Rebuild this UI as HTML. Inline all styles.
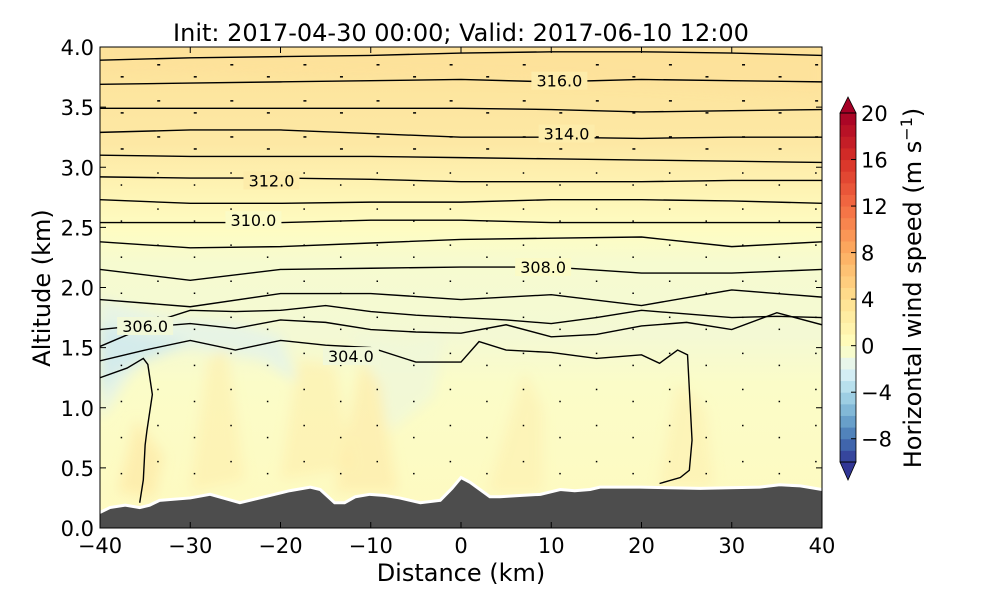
<!DOCTYPE html>
<html><head><meta charset="utf-8"><style>
body{margin:0;background:#fff}
svg{display:block;font-family:"DejaVu Sans","Liberation Sans",sans-serif}
</style></head><body>
<svg id="chart" width="1000" height="600" viewBox="0 0 1000 600">
<defs>
<clipPath id="plotclip"><rect x="100" y="47" width="722" height="481"/></clipPath>
<linearGradient id="bgGrad" x1="0" y1="0" x2="0" y2="1">
<stop offset="0" stop-color="#fde39a"/>
<stop offset="0.2" stop-color="#fde8a4"/>
<stop offset="0.3" stop-color="#fef4b4"/>
<stop offset="0.38" stop-color="#fefcc2"/>
<stop offset="0.45" stop-color="#f6fbd0"/>
<stop offset="0.6" stop-color="#f4f9d4"/>
<stop offset="0.7" stop-color="#fbfcc8"/>
<stop offset="1" stop-color="#fefac0"/>
</linearGradient>
<filter id="blur"><feGaussianBlur stdDeviation="6"/></filter>
</defs>
<text x="461" y="41" font-size="24" text-anchor="middle">Init: 2017-04-30 00:00; Valid: 2017-06-10 12:00</text>
<g id="plot" clip-path="url(#plotclip)">
<rect x="100" y="47" width="722" height="481" fill="url(#bgGrad)"/>
<g id="patches" filter="url(#blur)"></g>
<g id="vectors"></g>
<g id="contours"></g>
<g id="terrain"></g>
<g id="clabels"></g>
</g>
<rect x="100" y="47" width="722" height="481" fill="none" stroke="#000" stroke-width="1"/>
<g id="axes"></g>
<text x="461" y="581" font-size="24" text-anchor="middle">Distance (km)</text>
<text transform="translate(50,288) rotate(-90)" font-size="24" text-anchor="middle">Altitude (km)</text>
<g id="colorbar"></g>
<text transform="translate(921,288) rotate(-90)" font-size="24" text-anchor="middle">Horizontal wind speed (m s<tspan baseline-shift="super" font-size="16">−1</tspan>)</text>
</svg>
<script>
const NS="http://www.w3.org/2000/svg";
// ---- data ----
const xTicks=[-40,-30,-20,-10,0,10,20,30,40];
const yTicks=[0.0,0.5,1.0,1.5,2.0,2.5,3.0,3.5,4.0];
const cbTicks=[-8,-4,0,4,8,12,16,20];
const cbLevels=[-10,-9,-8,-7,-6,-5,-4,-3,-2,-1,0,1,2,3,4,5,6,7,8,9,10,11,12,13,14,15,16,17,18,19,20];
const gridX=[-40,-30,-20,-10,0,10,20,30,40];
const gridX5=[-40,-35,-30,-25,-20,-15,-10,-5,0,5,10,15,20,25,30,35,40];
const th1=[3.89,3.91,3.92,3.93,3.95,3.96,3.96,3.95,3.93];
const th2=[3.69,3.70,3.71,3.72,3.73,3.71,3.73,3.72,3.71];
const th3=[3.49,3.49,3.49,3.49,3.49,3.48,3.46,3.47,3.48];
const th4=[3.29,3.31,3.31,3.28,3.25,3.25,3.24,3.25,3.25];
const th5=[3.10,3.09,3.09,3.09,3.08,3.07,3.06,3.05,3.04];
const th6=[2.92,2.91,2.91,2.90,2.88,2.88,2.88,2.89,2.89];
const th7=[2.73,2.70,2.70,2.71,2.71,2.73,2.73,2.72,2.70];
const th8=[2.54,2.54,2.54,2.56,2.56,2.54,2.54,2.54,2.54];
const th9=[2.38,2.33,2.34,2.37,2.40,2.41,2.42,2.34,2.38];
const th10=[2.15,2.06,2.15,2.16,2.17,2.17,2.12,2.12,2.15];
const th11=[1.90,1.84,1.95,1.95,1.90,1.94,1.85,1.98,1.92];
const th12=[1.65,1.69,1.81,1.80,1.81,1.85,1.80,1.77,1.75,1.73,1.70,1.75,1.81,1.78,1.75,1.76,1.75];
const th13=[1.51,1.67,1.70,1.66,1.73,1.71,1.65,1.63,1.62,1.69,1.59,1.61,1.68,1.71,1.65,1.79,1.69];
const th14x=[-40,-35,-30,-25,-20,-15,-10,-5,0,2,5,10,15,20,22,24,25.1,25.6,25.3,24.3,22.0];
const th14z=[1.39,1.48,1.56,1.48,1.56,1.52,1.50,1.38,1.38,1.55,1.48,1.46,1.41,1.44,1.37,1.48,1.44,0.73,0.48,0.42,0.37];
const th15x=[-40,-37,-35.2,-34.7,-34.2,-34.8,-35.0,-35.2,-35.6];
const th15z=[1.25,1.33,1.41,1.36,1.11,0.81,0.69,0.40,0.21];
const terrX=[-40,-38.9,-37.2,-35.6,-34.5,-33.4,-30.0,-27.8,-24.5,-21.2,-19.0,-16.7,-15.6,-14.0,-12.9,-11.7,-10.1,-8.4,-6.8,-4.5,-2.3,-1.0,0,1.0,3.2,4.3,6.5,8.8,11.0,12.6,14.3,15.4,19.8,26.5,33.1,35.3,37.6,40];
const terrZ=[0.13,0.17,0.19,0.17,0.19,0.23,0.25,0.28,0.21,0.27,0.31,0.34,0.32,0.21,0.21,0.26,0.28,0.27,0.25,0.21,0.23,0.33,0.42,0.38,0.26,0.26,0.27,0.28,0.32,0.31,0.32,0.34,0.34,0.33,0.34,0.36,0.35,0.32];
const labelText=["316.0","314.0","312.0","310.0","308.0","306.0","304.0"];
const labelX=[10.9,11.7,-21.0,-23.0,9.1,-35.0,-12.2];
const labelZ=[3.72,3.28,2.89,2.56,2.17,1.68,1.43];
// ---- scales ----
const X=v=>100+(v+40)/80*722;
const Y=v=>528-v/4*481;
function el(tag,attrs,parent){const e=document.createElementNS(NS,tag);for(const k in attrs)e.setAttribute(k,attrs[k]);parent.appendChild(e);return e;}
const cm=["#313695","#4575b4","#74add1","#abd9e9","#e0f3f8","#ffffbf","#fee090","#fdae61","#f46d43","#d73027","#a50026"];
function hex(h){return [1,3,5].map(i=>parseInt(h.substr(i,2),16));}
function cmap(t){t=Math.max(0,Math.min(1,t));const p=t*10,i=Math.min(9,Math.floor(p)),f=p-i;const a=hex(cm[i]),b=hex(cm[i+1]);return "rgb("+a.map((v,k)=>Math.round(v+(b[k]-v)*f)).join(",")+")";}
const norm=v=>v<0?0.5+v/20:0.5+v/40;
// ---- patches ----
const P=document.getElementById("patches");
function patch(pts,color,op,name){const e=el("polygon",{points:pts.map(p=>X(p[0])+","+Y(p[1])).join(" "),fill:color,opacity:op},P);

}
patch([[-40,1.9],[-33,1.75],[-25,1.7],[-20,1.6],[-18,1.2],[-22,1.4],[-30,1.5],[-35,1.45],[-40,0.9]],"#e4f3ea",0.8,"negative-wind-patch");
patch([[-40,1.7],[-35,1.6],[-30,1.55],[-33,1.45],[-38,1.3],[-40,1.1]],"#cfe9ee",0.8,"negative-wind-core");
patch([[-12,1.6],[-6,1.55],[-2,1.6],[-3,1.1],[-8,0.8],[-10,1.3]],"#eef7dc",0.7,"negative-wind-patch-2");
patch([[-38,0.3],[-36,0.9],[-33,0.6],[-34,0.25]],"#fde6a0",0.6,"positive-wind-stripe-1");
patch([[-30,0.3],[-28,1.4],[-26,1.5],[-24,0.4]],"#fdeeac",0.6,"positive-wind-stripe-2");
patch([[-20,0.4],[-18,1.4],[-14,1.35],[-12,0.5]],"#fdeeac",0.6,"positive-wind-stripe-3");
patch([[-14,0.3],[-11,1.4],[-9,1.2],[-7,0.3]],"#fdeaa6",0.6,"positive-wind-stripe-4");
patch([[3,0.3],[7,1.3],[9,1.0],[9,0.3]],"#fdeeac",0.5,"positive-wind-stripe-5");
patch([[22,0.35],[24,1.2],[27,1.0],[28,0.35]],"#fdeeac",0.5,"positive-wind-stripe-6");
patch([[-40,4.2],[40,4.2],[40,3.6],[20,3.7],[0,3.75],[-40,3.8]],"#fde09a",0.5,"top-wind-band");
// ---- wind vectors ----
const V=document.getElementById("vectors");
for(let i=0;i<20;i++){for(let j=0;j<13;j++){const xv=-37.6+i*4.05,zv=0.45+j*0.3+(i%2)*0.1;if(zv>3.95)continue;
const d=el("rect",{x:X(xv)-1,y:Y(zv)-1,width:zv>3.0?3:1.5,height:1.5,fill:"#000"},V);

}}
// ---- contours ----
const C=document.getElementById("contours");
function line(xs,zs,name){const e=el("polyline",{points:xs.map((x,i)=>X(x)+","+Y(zs[i])).join(" "),fill:"none",stroke:"#000","stroke-width":1.4},C);

}
[th1,th2,th3,th4,th5,th6,th7,th8,th9,th10,th11].forEach((z,i)=>line(gridX,z,"isentrope-"+(i+1)));
line(gridX5,th12,"isentrope-12");
line(gridX5,th13,"isentrope-13");
line(th14x,th14z,"isentrope-14");
line(th15x,th15z,"isentrope-15");
// ---- terrain ----
const T=document.getElementById("terrain");
const tp=terrX.map((x,i)=>X(x)+","+Y(terrZ[i])).join(" ");
const tf=el("polygon",{points:X(-40)+",540 "+tp+" "+X(40)+",540",fill:"#4d4d4d"},T);


const tl=el("polyline",{points:tp,fill:"none",stroke:"#fff","stroke-width":3},T);


// ---- contour labels ----
const L=document.getElementById("clabels");
labelText.forEach((t,i)=>{const cx=X(labelX[i]),cy=Y(labelZ[i]);
const bg=el("rect",{x:cx-28,y:cy-9,width:56,height:18,fill:i<3?"#fdecaa":(i<5?"#fbfbc6":"#f1f8d8")},L);


const tx=el("text",{x:cx,y:cy+6,"font-size":16,"text-anchor":"middle"},L);tx.textContent=t;

});
// ---- axes ----
const A=document.getElementById("axes");
xTicks.forEach(v=>{const x=X(v);
const t1=el("line",{x1:x,x2:x,y1:528,y2:522,stroke:"#000"},A);


const t2=el("line",{x1:x,x2:x,y1:47,y2:53,stroke:"#000"},A);


const tx=el("text",{x:x,y:553,"font-size":21,"text-anchor":"middle"},A);tx.textContent=(v<0?"−":"")+Math.abs(v);

});
yTicks.forEach(v=>{const y=Y(v);
const t1=el("line",{x1:100,x2:106,y1:y,y2:y,stroke:"#000"},A);


const t2=el("line",{x1:816,x2:822,y1:y,y2:y,stroke:"#000"},A);


const tx=el("text",{x:94,y:y+8,"font-size":21,"text-anchor":"end"},A);tx.textContent=v.toFixed(1);

});
// ---- colorbar ----
const CB=document.getElementById("colorbar");
const CY=v=>462-(v+10)/30*349;
for(let i=0;i<cbLevels.length-1;i++){const a=cbLevels[i],b=cbLevels[i+1];
const r=el("rect",{x:840,y:CY(b),width:16,height:CY(a)-CY(b)+0.5,fill:cmap(norm((a+b)/2))},CB);

}
const up=el("polygon",{points:"840,"+CY(20)+" 848,97 856,"+CY(20),fill:cmap(1),stroke:"#000","stroke-width":0.8},CB);


const dn=el("polygon",{points:"840,"+CY(-10)+" 848,480 856,"+CY(-10),fill:cmap(0),stroke:"#000","stroke-width":0.8},CB);


const fr=el("rect",{x:840,y:CY(20),width:16,height:CY(-10)-CY(20),fill:"none",stroke:"#000","stroke-width":0.8},CB);


cbTicks.forEach(v=>{const y=CY(v);
const t=el("line",{x1:851,x2:856,y1:y,y2:y,stroke:"#000"},CB);


const tx=el("text",{x:861,y:y+8,"font-size":21},CB);tx.textContent=(v<0?"−":"")+Math.abs(v);

});
</script>
</body></html>
